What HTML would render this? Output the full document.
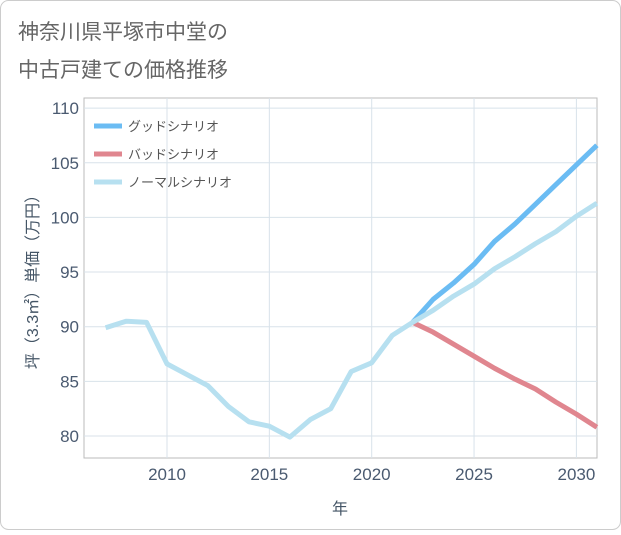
<!DOCTYPE html>
<html><head><meta charset="utf-8"><style>
body{margin:0;background:#fff;font-family:"Liberation Sans","Noto Sans CJK JP",sans-serif;}
#wrap{position:relative;width:621px;height:530px;}
</style></head><body>
<div id="wrap">
<svg id="chart" width="621" height="530">
<rect x="0.5" y="0.5" width="620" height="529" rx="8" fill="#fff" stroke="#ccc"/>
<text x="18" y="39" font-size="21" fill="#666" font-family="Liberation Sans,Noto Sans CJK JP,sans-serif">神奈川県平塚市中堂の</text>
<text x="18" y="77" font-size="21" fill="#666" font-family="Liberation Sans,Noto Sans CJK JP,sans-serif">中古戸建ての価格推移</text>
<g id="grid"></g>
<g id="series"></g>
<g id="legend"></g>
<text x="340" y="514" font-size="16" fill="#445566" text-anchor="middle" font-family="Liberation Sans,Noto Sans CJK JP,sans-serif">年</text>
<text transform="translate(38,278) rotate(-90)" font-size="16" fill="#445566" text-anchor="middle" font-family="Liberation Sans,Noto Sans CJK JP,sans-serif">坪（3.3㎡）単価（万円）</text>
</svg>
</div>
<script>
const xTicks=[2010,2015,2020,2025,2030];
const yTicks=[80,85,90,95,100,105,110];
const normalYears=[2007,2008,2009,2010,2011,2012,2013,2014,2015,2016,2017,2018,2019,2020,2021,2022,2023,2024,2025,2026,2027,2028,2029,2030,2031];
const normalValues=[89.9,90.5,90.4,86.6,85.6,84.6,82.7,81.3,80.9,79.9,81.5,82.5,85.9,86.7,89.2,90.4,91.5,92.8,93.9,95.3,96.4,97.6,98.7,100.1,101.3];
const forecastYears=[2022,2023,2024,2025,2026,2027,2028,2029,2030,2031];
const goodValues=[90.4,92.5,94.0,95.7,97.8,99.4,101.2,103.0,104.8,106.6];
const badValues=[90.4,89.5,88.4,87.3,86.2,85.2,84.3,83.1,82.0,80.8];
const seriesNames=["グッドシナリオ","バッドシナリオ","ノーマルシナリオ"];
const L=84,R=597,T=98,B=458;
const X=y=>167+(y-2010)*20.47;
const Y=v=>436-(v-80)*10.93;
const NS="http://www.w3.org/2000/svg";
function mk(tag,parent){const e=document.createElementNS(NS,tag);document.getElementById(parent).appendChild(e);return e;}
const frame=mk('rect','grid');


frame.setAttribute('x',L);frame.setAttribute('y',T);frame.setAttribute('width',R-L);frame.setAttribute('height',B-T);
frame.setAttribute('fill','none');frame.setAttribute('stroke','#bbb');
for(const t of xTicks){
 const l=mk('line','grid');
 
 
 l.setAttribute('x1',X(t));l.setAttribute('x2',X(t));l.setAttribute('y1',T);l.setAttribute('y2',B);l.setAttribute('stroke','#d8e2ea');
 const s=mk('text','grid');
 
 
 s.setAttribute('x',X(t));s.setAttribute('y',480);s.setAttribute('text-anchor','middle');s.setAttribute('font-size','17');s.setAttribute('fill','#4a5a70');s.textContent=t;
}
for(const t of yTicks){
 const l=mk('line','grid');
 
 
 l.setAttribute('x1',L);l.setAttribute('x2',R);l.setAttribute('y1',Y(t));l.setAttribute('y2',Y(t));l.setAttribute('stroke','#d8e2ea');
 const s=mk('text','grid');
 
 
 s.setAttribute('x',79);s.setAttribute('y',Y(t)+6);s.setAttribute('text-anchor','end');s.setAttribute('font-size','17');s.setAttribute('fill','#4a5a70');s.textContent=t;
}
function line(xs,vs,color,name){
 const p=mk('polyline','series');
 
 
 p.setAttribute('points',xs.map((x,i)=>X(x)+','+Y(vs[i])).join(' '));
 p.setAttribute('fill','none');p.setAttribute('stroke',color);p.setAttribute('stroke-width','5');p.setAttribute('stroke-linejoin','round');
}
line(forecastYears,goodValues,'#6bbcf3','good-scenario-line');
line(forecastYears,badValues,'#e0868f','bad-scenario-line');
line(normalYears,normalValues,'#b7e0f0','normal-scenario-line');
const colors=['#6bbcf3','#e0868f','#b7e0f0'];
seriesNames.forEach((n,i)=>{
 const y=126+i*28;
 const l=mk('line','legend');
 
 
 l.setAttribute('x1',94);l.setAttribute('x2',122);l.setAttribute('y1',y);l.setAttribute('y2',y);l.setAttribute('stroke',colors[i]);l.setAttribute('stroke-width','5');
 const s=mk('text','legend');
 
 
 s.setAttribute('x',128);s.setAttribute('y',y+5);s.setAttribute('font-size','13');s.setAttribute('fill','#555');s.textContent=n;
});
</script>
</body></html>
